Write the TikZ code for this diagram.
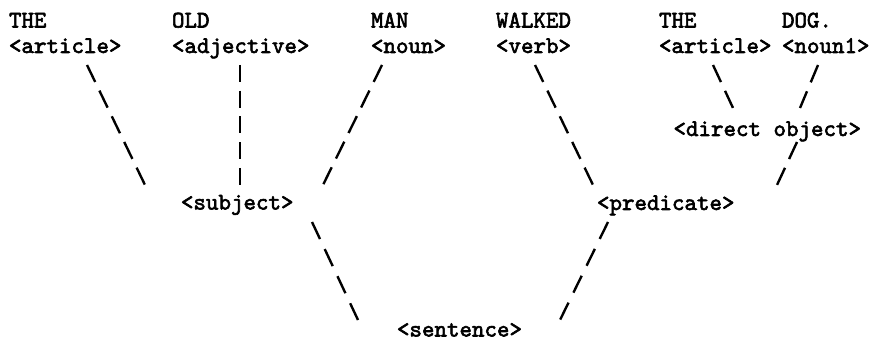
\documentclass[tikz,border=0pt]{standalone}
\usepackage{fontspec}
\usepackage{tikz}
\usetikzlibrary{calc}
\newfontfamily\typer{lmmono10-regular.otf}[FakeBold=2.5]

\tikzset{
	word/.style={anchor=base west,inner sep=0pt,font=\typer},
	slash/.style={line width=1pt,dash pattern=on 7.9pt off #1},
	slash/.default=4.07pt,
	bar/.style={line width=1pt,dash pattern=on 7.1pt off 3.7pt}
}

\begin{document}
\begin{tikzpicture}[x=0.42pt,y=-0.42pt]
			\useasboundingbox (0,0) rectangle (869,348);
			%words of the sentence
			\node[word] (the1) at (8.5,27.5) {THE};
			\node[word] (old) at (171.5,27.5) {OLD};
			\node[word] (man) at (370.5,27.5) {MAN};
			\node[word] (walked) at (495.5,27.5) {WALKED};
			\node[word] (the2) at (658.5,27.5) {THE};
			\node[word] (dog) at (781.5,27.5) {DOG.};
			%word classes
			\node[word] (article1) at (8.5,53) {<article>};
			\node[word] (adjective) at (171.5,53) {<adjective>};
			\node[word] (noun) at (370.5,53) {<noun>};
			\node[word] (verb) at (495.5,53) {<verb>};
			\node[word] (article2) at (658.5,53) {<article>};
			\node[word] (nounone) at (781.5,53) {<noun1>};
			%phrases
			\node[word] (dobj) at (673,136) {<direct object>};
			\node[word] (subject) at (180.5,209.5) {<subject>};
			\node[word] (predicate) at (596.5,210) {<predicate>};
			\node[word] (sentence) at (396.5,336.5) {<sentence>};
			%branches of the subject
			\draw[slash] ($(article1.base west)+(78.5,12)$) -- ($(subject.base west)+(-35.5,-24.5)$);
			\draw[bar] ($(adjective.base west)+(68.5,12)$) -- ($(subject.base west)+(59.5,-24.5)$);
			\draw[slash] ($(noun.base west)+(11.5,12)$) -- ($(subject.base west)+(142.5,-24.5)$);
			%branches of the predicate
			\draw[slash] ($(verb.base west)+(39.5,12)$) -- ($(predicate.base west)+(-3.5,-25)$);
			\draw[slash] ($(article2.base west)+(54.5,12)$) -- ($(dobj.base west)+(60,-28)$);
			\draw[slash] ($(nounone.base west)+(36.5,12)$) -- ($(dobj.base west)+(127,-28)$);
			\draw[slash] ($(dobj.base west)+(124,6)$) -- ($(predicate.base west)+(180.5,-25)$);
			%down to the sentence
			\draw[slash=4.67pt] ($(subject.base west)+(131.5,12.5)$) -- ($(sentence.base west)+(-38.5,-16.5)$);
			\draw[slash=4.67pt] ($(predicate.base west)+(11.5,12)$) -- ($(sentence.base west)+(163.5,-16.5)$);
		\end{tikzpicture}
\end{document}
